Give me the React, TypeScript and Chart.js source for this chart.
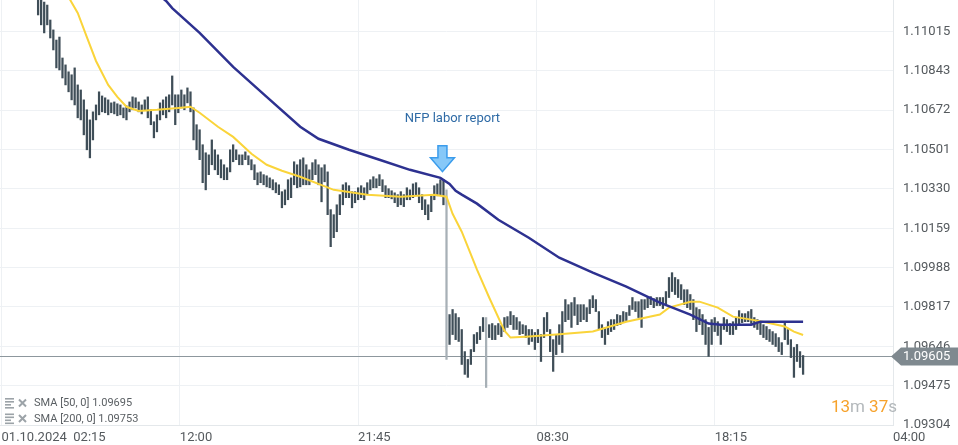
import React, { useEffect, useRef } from "react";
import { Chart, registerables } from "chart.js";

Chart.register(...registerables);

// ---- axes ----
const xTickMinutes = [0, 585, 1170, 1755, 2340, 2925];
const xTickLabels = ["01.10.2024  02:15", "12:00", "21:45", "08:30", "18:15", "04:00"];
const xMinMinute = -5;
const yTickValues = [1.09304, 1.09475, 1.09646, 1.09817, 1.09988, 1.10159, 1.1033, 1.10501, 1.10672, 1.10843, 1.11015];
const yMin = 1.09304;
const yMax = 1.11151;

// ---- candles (10-minute slots, first slot at 04:15) ----
const candleStartMinute = 120;
const candleStepMinutes = 10;

const candleHigh = [
  1.11173, 1.11173, 1.11142, 1.11129, 1.11064, 1.11021, 1.10977, 1.10990, 1.10899, 1.10869, 1.10839, 1.10826,
  1.10856, 1.10782, 1.10760, 1.10717, 1.10674, 1.10630, 1.10665, 1.10695, 1.10752, 1.10734, 1.10726, 1.10717,
  1.10704, 1.10708, 1.10700, 1.10695, 1.10682, 1.10691, 1.10708, 1.10730, 1.10726, 1.10708, 1.10695, 1.10717,
  1.10730, 1.10674, 1.10622, 1.10652, 1.10704, 1.10717, 1.10730, 1.10739, 1.10821, 1.10739, 1.10739, 1.10760,
  1.10739, 1.10769, 1.10752, 1.10682, 1.10609, 1.10587, 1.10522, 1.10487, 1.10478, 1.10543, 1.10500, 1.10478,
  1.10457, 1.10435, 1.10422, 1.10500, 1.10522, 1.10500, 1.10478, 1.10478, 1.10491, 1.10474, 1.10457, 1.10435,
  1.10400, 1.10404, 1.10392, 1.10387, 1.10378, 1.10370, 1.10357, 1.10348, 1.10318, 1.10326, 1.10370, 1.10378,
  1.10448, 1.10435, 1.10457, 1.10465, 1.10435, 1.10413, 1.10444, 1.10457, 1.10435, 1.10422, 1.10435, 1.10404,
  1.10240, 1.10218, 1.10261, 1.10305, 1.10348, 1.10357, 1.10344, 1.10318, 1.10318, 1.10335, 1.10344, 1.10335,
  1.10357, 1.10370, 1.10383, 1.10374, 1.10392, 1.10370, 1.10344, 1.10331, 1.10322, 1.10313, 1.10305, 1.10318,
  1.10305, 1.10335, 1.10326, 1.10352, 1.10357, 1.10335, 1.10305, 1.10283, 1.10261, 1.10300, 1.10344, 1.10352,
  1.10370, 1.10370, 1.10326, 1.09784, 1.09806, 1.09788, 1.09771, 1.09719, 1.09623, 1.09589, 1.09632, 1.09697,
  1.09706, 1.09732, 1.09771, 1.09771, 1.09740, 1.09745, 1.09736, 1.09745, 1.09736, 1.09771, 1.09775, 1.09797,
  1.09780, 1.09771, 1.09753, 1.09740, 1.09736, 1.09719, 1.09719, 1.09706, 1.09719, 1.09697, 1.09771, 1.09793,
  1.09719, 1.09675, 1.09697, 1.09740, 1.09797, 1.09849, 1.09827, 1.09836, 1.09858, 1.09827, 1.09827, 1.09827,
  1.09814, 1.09849, 1.09866, 1.09849, 1.09797, 1.09740, 1.09728, 1.09753, 1.09762, 1.09762, 1.09784, 1.09780,
  1.09797, 1.09793, 1.09823, 1.09858, 1.09840, 1.09840, 1.09849, 1.09849, 1.09858, 1.09862, 1.09853, 1.09858,
  1.09858, 1.09858, 1.09884, 1.09945, 1.09966, 1.09945, 1.09936, 1.09914, 1.09892, 1.09892, 1.09871, 1.09849,
  1.09814, 1.09806, 1.09784, 1.09762, 1.09728, 1.09762, 1.09771, 1.09753, 1.09740, 1.09771, 1.09762, 1.09745,
  1.09753, 1.09771, 1.09801, 1.09788, 1.09788, 1.09797, 1.09806, 1.09771, 1.09762, 1.09753, 1.09740, 1.09732,
  1.09719, 1.09710, 1.09701, 1.09684, 1.09662, 1.09753, 1.09719, 1.09675, 1.09641, 1.09654, 1.09623, 1.09606,
];

const candleLow = [
  1.11086, 1.11043, 1.11008, 1.11043, 1.10986, 1.10934, 1.10856, 1.10847, 1.10812, 1.10782, 1.10752, 1.10717,
  1.10695, 1.10639, 1.10630, 1.10565, 1.10500, 1.10465, 1.10543, 1.10630, 1.10652, 1.10665, 1.10661, 1.10652,
  1.10661, 1.10656, 1.10648, 1.10652, 1.10639, 1.10630, 1.10665, 1.10674, 1.10682, 1.10665, 1.10656, 1.10674,
  1.10639, 1.10609, 1.10552, 1.10578, 1.10630, 1.10652, 1.10639, 1.10665, 1.10695, 1.10609, 1.10661, 1.10682,
  1.10674, 1.10704, 1.10665, 1.10543, 1.10500, 1.10457, 1.10357, 1.10326, 1.10392, 1.10435, 1.10413, 1.10392,
  1.10378, 1.10370, 1.10370, 1.10404, 1.10448, 1.10457, 1.10435, 1.10435, 1.10457, 1.10435, 1.10413, 1.10370,
  1.10348, 1.10357, 1.10348, 1.10339, 1.10335, 1.10326, 1.10313, 1.10305, 1.10248, 1.10261, 1.10283, 1.10292,
  1.10348, 1.10335, 1.10339, 1.10348, 1.10348, 1.10348, 1.10370, 1.10392, 1.10348, 1.10274, 1.10361, 1.10218,
  1.10079, 1.10118, 1.10144, 1.10218, 1.10261, 1.10292, 1.10292, 1.10248, 1.10270, 1.10283, 1.10292, 1.10283,
  1.10305, 1.10326, 1.10335, 1.10335, 1.10344, 1.10318, 1.10292, 1.10292, 1.10287, 1.10270, 1.10253, 1.10261,
  1.10253, 1.10283, 1.10283, 1.10292, 1.10305, 1.10270, 1.10240, 1.10218, 1.10196, 1.10231, 1.10283, 1.10300,
  1.10305, 1.10261, 1.09589, 1.09654, 1.09697, 1.09675, 1.09667, 1.09567, 1.09524, 1.09511, 1.09567, 1.09623,
  1.09658, 1.09675, 1.09710, 1.09467, 1.09684, 1.09675, 1.09675, 1.09697, 1.09688, 1.09710, 1.09728, 1.09740,
  1.09719, 1.09719, 1.09697, 1.09701, 1.09684, 1.09654, 1.09667, 1.09632, 1.09662, 1.09580, 1.09684, 1.09710,
  1.09623, 1.09537, 1.09610, 1.09654, 1.09619, 1.09753, 1.09762, 1.09728, 1.09780, 1.09740, 1.09753, 1.09762,
  1.09753, 1.09788, 1.09814, 1.09797, 1.09719, 1.09684, 1.09654, 1.09697, 1.09710, 1.09719, 1.09736, 1.09740,
  1.09753, 1.09758, 1.09780, 1.09806, 1.09797, 1.09771, 1.09728, 1.09806, 1.09814, 1.09827, 1.09814, 1.09823,
  1.09823, 1.09810, 1.09827, 1.09858, 1.09884, 1.09871, 1.09858, 1.09849, 1.09827, 1.09814, 1.09806, 1.09762,
  1.09710, 1.09740, 1.09697, 1.09654, 1.09602, 1.09654, 1.09710, 1.09693, 1.09654, 1.09719, 1.09710, 1.09697,
  1.09697, 1.09719, 1.09740, 1.09749, 1.09753, 1.09753, 1.09745, 1.09728, 1.09719, 1.09697, 1.09684, 1.09675,
  1.09667, 1.09654, 1.09645, 1.09623, 1.09610, 1.09675, 1.09654, 1.09597, 1.09511, 1.09580, 1.09554, 1.09524,
];

// ---- moving averages (points at candle slots) ----
const sma50At = [9, 13, 16, 19, 23, 26, 29, 33, 39, 46, 50, 53, 59, 64, 70, 75, 80, 86, 97, 108, 119, 130, 134, 136, 139, 144, 148, 153, 155, 160, 170, 182, 193, 204, 207, 214, 217, 223, 228, 234, 239, 245, 248, 251];
const sma50 = [1.11186, 1.11095, 1.1099, 1.10886, 1.10782, 1.1073, 1.10687, 1.10669, 1.10674, 1.10682, 1.10687, 1.10661, 1.106, 1.10556, 1.10483, 1.10435, 1.10409, 1.10383, 1.10326, 1.10305, 1.10296, 1.10305, 1.10296, 1.10222, 1.10144, 1.09979, 1.09858, 1.09714, 1.09684, 1.09688, 1.09697, 1.0971, 1.09753, 1.09784, 1.09814, 1.0984, 1.0984, 1.09814, 1.09775, 1.09762, 1.09749, 1.09732, 1.0971, 1.09695];

const sma200At = [40, 42, 44, 53, 64, 75, 86, 92, 102, 112, 122, 132, 135, 137, 139, 144, 151, 161, 171, 182, 193, 204, 214, 220, 224, 234, 237, 251];
const sma200 = [1.11168, 1.11147, 1.11116, 1.11008, 1.1086, 1.1073, 1.106, 1.10548, 1.105, 1.10457, 1.10413, 1.10378, 1.10352, 1.10322, 1.10305, 1.10266, 1.10196, 1.10118, 1.10031, 1.09966, 1.09905, 1.09836, 1.09784, 1.09745, 1.0974, 1.0974, 1.09753, 1.09753];

// ---- annotations / texts ----
const currentPrice = 1.09605;
const nfpCandle = 133;
const nfpLabel = "NFP labor report";
const legendNames = ["SMA [50, 0]", "SMA [200, 0]"];
const countdownParts = [
  { text: "13", unit: false },
  { text: "m", unit: true },
  { text: " ", unit: true },
  { text: "37", unit: false },
  { text: "s", unit: true },
];

const FONT = "Roboto";

export default function App() {
  const ref = useRef<HTMLCanvasElement>(null);

  useEffect(() => {
    const canvas = ref.current;
    if (!canvas) return;
    Chart.defaults.font.family = FONT;

    const toMinute = (i: number) => candleStartMinute + candleStepMinutes * i;
    const candleData = candleHigh.map((h, i) => ({ x: toMinute(i), y: [candleLow[i], h] }));
    const candleColors = candleHigh.map((h, i) => (h - candleLow[i] > 0.0025 ? "#a7b0b6" : "#3f4e58"));
    const sma50Data = sma50At.map((k, j) => ({ x: toMinute(k), y: sma50[j] }));
    const sma200Data = sma200At.map((k, j) => ({ x: toMinute(k), y: sma200[j] }));

    const overlay = {
      id: "overlay",
      beforeDatasetsDraw(chart: any) {
        const { ctx, chartArea, scales } = chart;
        const py = Math.round(scales.y.getPixelForValue(currentPrice)) + 0.5;
        ctx.save();
        ctx.strokeStyle = "#8d979d";
        ctx.lineWidth = 1;
        ctx.beginPath();
        ctx.moveTo(chartArea.left, py);
        ctx.lineTo(chartArea.right, py);
        ctx.stroke();
        ctx.restore();
      },
      afterDraw(chart: any) {
        const { ctx, chartArea, scales, width } = chart;
        const xs = scales.x;
        const ys = scales.y;
        ctx.save();

        // current price tag
        const py = Math.round(ys.getPixelForValue(currentPrice)) + 0.5;
        const r = chartArea.right;
        ctx.fillStyle = "#7f898f";
        ctx.beginPath();
        ctx.moveTo(r - 2, py);
        ctx.lineTo(r + 8, py - 9);
        ctx.lineTo(width, py - 9);
        ctx.lineTo(width, py + 9);
        ctx.lineTo(r + 8, py + 9);
        ctx.closePath();
        ctx.fill();
        ctx.fillStyle = "#ffffff";
        ctx.font = `13px ${FONT}`;
        ctx.textAlign = "left";
        ctx.textBaseline = "middle";
        ctx.fillText(currentPrice.toFixed(5), r + 10, py + 0.5);

        // NFP annotation
        const ax = xs.getPixelForValue(toMinute(nfpCandle)) - 1;
        const tipY = ys.getPixelForValue(candleHigh[nfpCandle]) - 8;
        ctx.beginPath();
        ctx.moveTo(ax - 4.5, tipY - 26);
        ctx.lineTo(ax + 4.5, tipY - 26);
        ctx.lineTo(ax + 4.5, tipY - 14);
        ctx.lineTo(ax + 12, tipY - 14);
        ctx.lineTo(ax, tipY);
        ctx.lineTo(ax - 12, tipY - 14);
        ctx.lineTo(ax - 4.5, tipY - 14);
        ctx.closePath();
        ctx.fillStyle = "#86c8f8";
        ctx.fill();
        ctx.strokeStyle = "#3b9cec";
        ctx.lineWidth = 1.5;
        ctx.lineJoin = "miter";
        ctx.stroke();
        ctx.fillStyle = "#2f6ba6";
        ctx.font = `13px ${FONT}`;
        ctx.textAlign = "center";
        ctx.textBaseline = "middle";
        ctx.fillText(nfpLabel, ax + 10, tipY - 53);

        // legend
        const legendVals = [sma50[sma50.length - 1], sma200[sma200.length - 1]];
        legendNames.forEach((name, k) => {
          const cy = chartArea.bottom - 22 + k * 15.5;
          ctx.fillStyle = "#9ca3a8";
          ctx.fillRect(5, cy - 5, 9, 1.6);
          ctx.fillRect(5, cy - 2, 9, 1.6);
          ctx.fillRect(5, cy + 1, 6, 1.6);
          ctx.fillRect(5, cy + 4, 9, 1.6);
          ctx.strokeStyle = "#9ca3a8";
          ctx.lineWidth = 2;
          ctx.beginPath();
          ctx.moveTo(19, cy - 3.5);
          ctx.lineTo(26, cy + 3.5);
          ctx.moveTo(26, cy - 3.5);
          ctx.lineTo(19, cy + 3.5);
          ctx.stroke();
          ctx.fillStyle = "#5a5f63";
          ctx.font = `11px ${FONT}`;
          ctx.textAlign = "left";
          ctx.textBaseline = "middle";
          ctx.fillText(`${name} ${legendVals[k].toFixed(5)}`, 34, cy + 0.5);
        });

        // countdown
        ctx.font = `17px ${FONT}`;
        ctx.textBaseline = "alphabetic";
        ctx.textAlign = "left";
        let total = 0;
        countdownParts.forEach((p) => (total += ctx.measureText(p.text).width));
        let cx = chartArea.right + 4 - total;
        countdownParts.forEach((p) => {
          ctx.fillStyle = p.unit ? "#b3b8bb" : "#f6a22c";
          ctx.fillText(p.text, cx, chartArea.bottom - 13);
          cx += ctx.measureText(p.text).width;
        });

        ctx.restore();
      },
    };

    const chart = new Chart(canvas, {
      type: "bar",
      data: {
        datasets: [
          {
            type: "line",
            data: sma200Data,
            borderColor: "#2d3190",
            borderWidth: 2.5,
            pointRadius: 0,
            tension: 0,
            order: 1,
          } as any,
          {
            type: "line",
            data: sma50Data,
            borderColor: "#fad43a",
            borderWidth: 2,
            pointRadius: 0,
            tension: 0,
            order: 2,
          } as any,
          {
            type: "bar",
            data: candleData as any,
            backgroundColor: candleColors,
            barThickness: 1.6,
            borderWidth: 0,
            borderSkipped: false,
            grouped: false,
            order: 3,
          } as any,
        ],
      },
      options: {
        responsive: false,
        animation: false,
        devicePixelRatio: 1,
        events: [],
        layout: { padding: 0 },
        plugins: { legend: { display: false }, tooltip: { enabled: false } },
        scales: {
          x: {
            type: "linear",
            min: xMinMinute,
            max: xTickMinutes[xTickMinutes.length - 1],
            offset: false,
            afterBuildTicks: (s: any) => {
              s.ticks = xTickMinutes.map((v) => ({ value: v }));
            },
            afterFit: (s: any) => {
              s.height = 20;
              s.paddingLeft = 0;
              s.paddingRight = 0;
            },
            ticks: {
              autoSkip: false,
              maxRotation: 0,
              minRotation: 0,
              align: "start",
              padding: 5,
              color: "#555a5e",
              font: { size: 13, family: FONT },
              callback: (_v: any, i: number) => xTickLabels[i],
            },
            grid: { color: "#eef1f4", drawTicks: false, offset: false },
            border: { display: true, color: "#e4e8eb" },
          } as any,
          y: {
            type: "linear",
            position: "right",
            min: yMin,
            max: yMax,
            afterBuildTicks: (s: any) => {
              s.ticks = yTickValues.map((v) => ({ value: v }));
            },
            afterFit: (s: any) => {
              s.width = 65;
              s.paddingTop = 0;
              s.paddingBottom = 0;
            },
            ticks: {
              padding: 10,
              color: "#555a5e",
              font: { size: 13, family: FONT },
              callback: (v: any) => Number(v).toFixed(5),
            },
            grid: { color: "#eef1f4", drawTicks: false },
            border: { display: true, color: "#e4e8eb" },
          } as any,
        },
      },
      plugins: [overlay],
    });

    return () => chart.destroy();
  }, []);

  return (
    <div style={{ position: "fixed", left: 0, top: 0, width: 958, height: 445, background: "#ffffff" }}>
      <canvas ref={ref} width={958} height={445} style={{ display: "block", width: 958, height: 445 }} />
    </div>
  );
}
